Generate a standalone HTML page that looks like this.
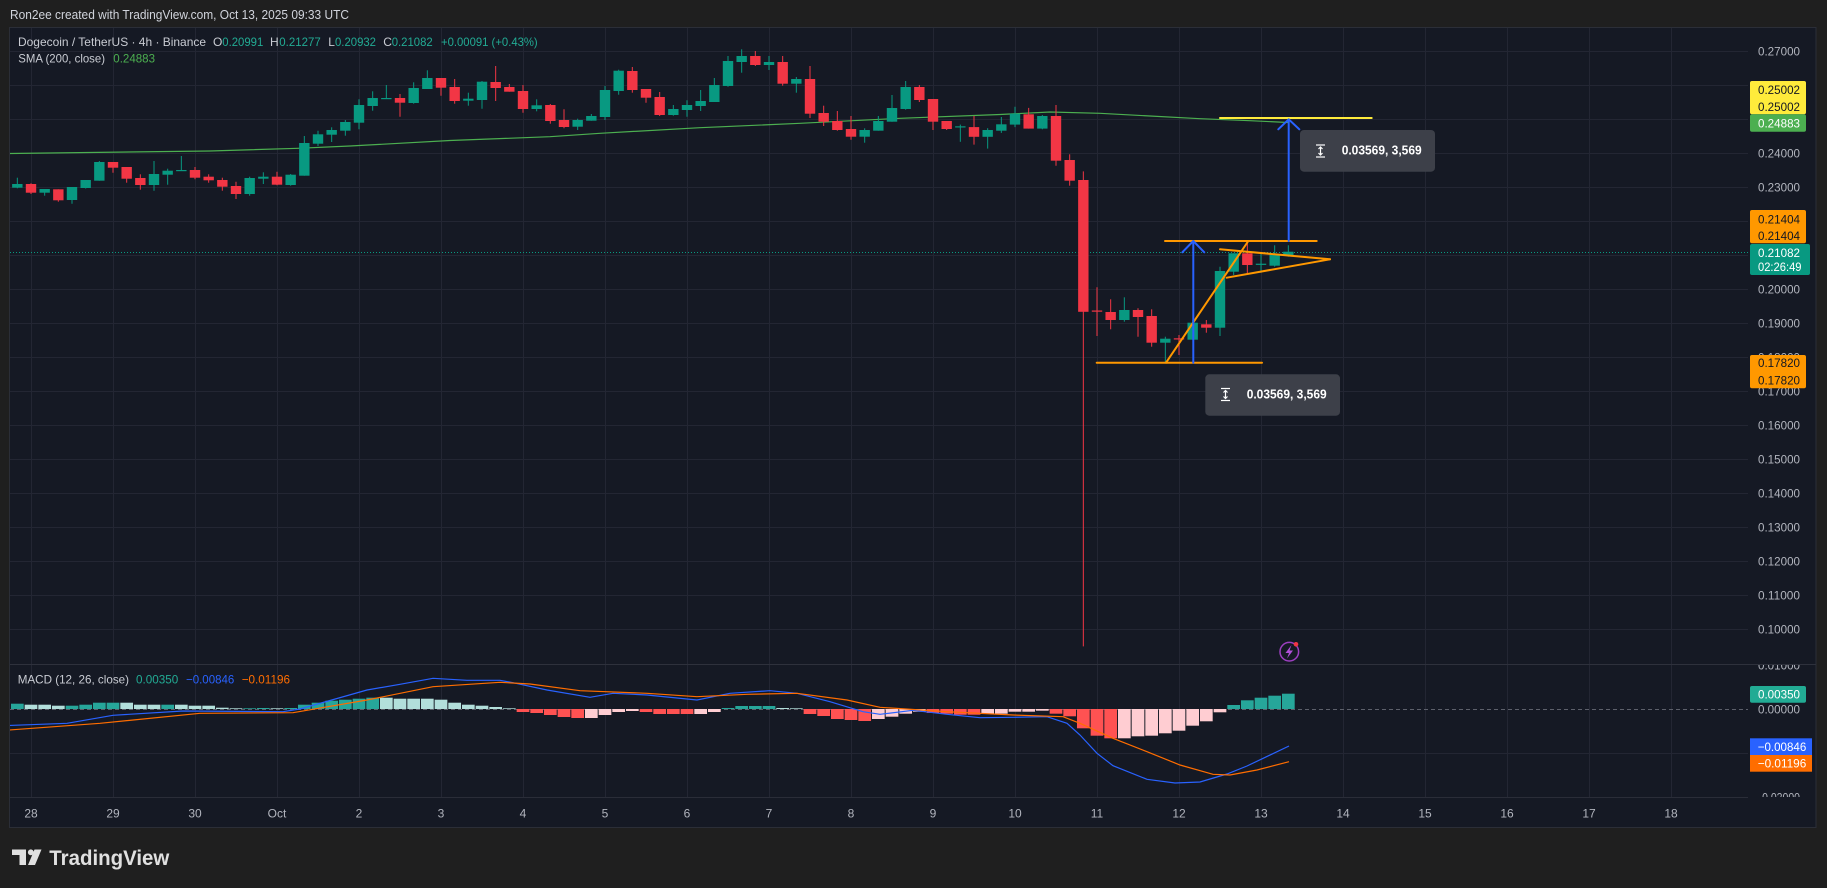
<!DOCTYPE html>
<html>
<head>
<meta charset="utf-8">
<style>
html,body{margin:0;padding:0;background:#1f1f1f;width:1827px;height:888px;overflow:hidden}
svg{display:block}
</style>
</head>
<body>
<svg width="1827" height="888" viewBox="0 0 1827 888" xmlns="http://www.w3.org/2000/svg" font-family="Liberation Sans, sans-serif">
<defs>
<clipPath id="mainclip"><rect x="10" y="28" width="1738" height="636"/></clipPath>
<clipPath id="macdclip"><rect x="10" y="665" width="1738" height="132"/></clipPath>
<clipPath id="macdaxis"><rect x="1748" y="665" width="68" height="132"/></clipPath>
</defs>
<rect width="1827" height="888" fill="#1f1f1f"/>
<text x="10" y="19" font-size="12.5" fill="#d1d4dc" textLength="339" lengthAdjust="spacingAndGlyphs">Ron2ee created with TradingView.com, Oct 13, 2025 09:33 UTC</text>

<rect x="9.5" y="27.5" width="1806.5" height="800" fill="#151924" stroke="#2b2e37" stroke-width="1"/>

<!-- grid -->
<g stroke="#232633" stroke-width="1">
<line x1="31.5" y1="28" x2="31.5" y2="797"/><line x1="113.5" y1="28" x2="113.5" y2="797"/><line x1="195.5" y1="28" x2="195.5" y2="797"/><line x1="277.5" y1="28" x2="277.5" y2="797"/><line x1="359.5" y1="28" x2="359.5" y2="797"/><line x1="441.5" y1="28" x2="441.5" y2="797"/><line x1="523.5" y1="28" x2="523.5" y2="797"/><line x1="605.5" y1="28" x2="605.5" y2="797"/><line x1="687.5" y1="28" x2="687.5" y2="797"/><line x1="769.5" y1="28" x2="769.5" y2="797"/><line x1="851.5" y1="28" x2="851.5" y2="797"/><line x1="933.5" y1="28" x2="933.5" y2="797"/><line x1="1015.5" y1="28" x2="1015.5" y2="797"/><line x1="1097.5" y1="28" x2="1097.5" y2="797"/><line x1="1179.5" y1="28" x2="1179.5" y2="797"/><line x1="1261.5" y1="28" x2="1261.5" y2="797"/><line x1="1343.5" y1="28" x2="1343.5" y2="797"/><line x1="1425.5" y1="28" x2="1425.5" y2="797"/><line x1="1507.5" y1="28" x2="1507.5" y2="797"/><line x1="1589.5" y1="28" x2="1589.5" y2="797"/><line x1="1671.5" y1="28" x2="1671.5" y2="797"/>
<line x1="10" y1="51.5" x2="1748" y2="51.5"/><line x1="10" y1="85.5" x2="1748" y2="85.5"/><line x1="10" y1="119.5" x2="1748" y2="119.5"/><line x1="10" y1="153.5" x2="1748" y2="153.5"/><line x1="10" y1="187.5" x2="1748" y2="187.5"/><line x1="10" y1="221.5" x2="1748" y2="221.5"/><line x1="10" y1="255.5" x2="1748" y2="255.5"/><line x1="10" y1="289.5" x2="1748" y2="289.5"/><line x1="10" y1="323.5" x2="1748" y2="323.5"/><line x1="10" y1="357.5" x2="1748" y2="357.5"/><line x1="10" y1="391.5" x2="1748" y2="391.5"/><line x1="10" y1="425.5" x2="1748" y2="425.5"/><line x1="10" y1="459.5" x2="1748" y2="459.5"/><line x1="10" y1="493.5" x2="1748" y2="493.5"/><line x1="10" y1="527.5" x2="1748" y2="527.5"/><line x1="10" y1="561.5" x2="1748" y2="561.5"/><line x1="10" y1="595.5" x2="1748" y2="595.5"/><line x1="10" y1="629.5" x2="1748" y2="629.5"/>
<line x1="10" y1="753.5" x2="1748" y2="753.5"/>
</g>
<line x1="10" y1="664.5" x2="1816" y2="664.5" stroke="#2e313c" stroke-width="1"/>
<line x1="10" y1="797.5" x2="1748" y2="797.5" stroke="#2a2d38" stroke-width="1"/>

<!-- legend -->
<g font-size="12">
<text x="18" y="46" fill="#c9ccd3" textLength="188" lengthAdjust="spacingAndGlyphs">Dogecoin / TetherUS · 4h · Binance</text>
<text x="213" y="46" fill="#c9ccd3">O</text><text x="222.3" y="46" fill="#22ab94" textLength="41" lengthAdjust="spacingAndGlyphs">0.20991</text>
<text x="270" y="46" fill="#c9ccd3">H</text><text x="279.3" y="46" fill="#22ab94" textLength="41.4" lengthAdjust="spacingAndGlyphs">0.21277</text>
<text x="328.3" y="46" fill="#c9ccd3">L</text><text x="335" y="46" fill="#22ab94" textLength="41" lengthAdjust="spacingAndGlyphs">0.20932</text>
<text x="383.3" y="46" fill="#c9ccd3">C</text><text x="391.7" y="46" fill="#22ab94" textLength="41" lengthAdjust="spacingAndGlyphs">0.21082</text>
<text x="441" y="46" fill="#22ab94" textLength="96.7" lengthAdjust="spacingAndGlyphs">+0.00091 (+0.43%)</text>
<text x="18.3" y="62.5" fill="#c9ccd3" textLength="86.7" lengthAdjust="spacingAndGlyphs">SMA (200, close)</text>
<text x="113.3" y="62.5" fill="#4caf50" textLength="41.7" lengthAdjust="spacingAndGlyphs">0.24883</text>
</g>

<g clip-path="url(#mainclip)">
<!-- SMA -->
<polyline fill="none" stroke="#4caf50" stroke-width="1.2" points="9,153.5 210,151 298,148.3 350,146 450,140.5 550,136.7 600,133.3 700,127.7 800,123.3 900,118.3 1000,114.5 1050,112 1100,113.3 1150,116 1200,118.7 1250,120.7 1288,122.5"/>
<!-- current price line -->
<line x1="10" y1="252.5" x2="1748" y2="252.5" stroke="#089981" stroke-width="1" stroke-dasharray="1 2"/>

<!-- green candles -->
<g stroke="#089981" stroke-width="1">
<line x1="17.33" y1="177.7" x2="17.33" y2="188.3"/><line x1="44.67" y1="189" x2="44.67" y2="195.7"/><line x1="72" y1="187" x2="72" y2="203.7"/><line x1="85.67" y1="180" x2="85.67" y2="188.5"/><line x1="99.33" y1="161" x2="99.33" y2="180.7"/><line x1="154" y1="161" x2="154" y2="190.7"/><line x1="167.67" y1="168.7" x2="167.67" y2="184.7"/><line x1="181.33" y1="156" x2="181.33" y2="171"/><line x1="249.67" y1="176.7" x2="249.67" y2="195.7"/><line x1="263.33" y1="172.3" x2="263.33" y2="184"/><line x1="290.67" y1="174" x2="290.67" y2="185.7"/><line x1="304.33" y1="136" x2="304.33" y2="175.7"/><line x1="318" y1="130.7" x2="318" y2="146"/><line x1="331.67" y1="127.3" x2="331.67" y2="142"/><line x1="345.33" y1="120" x2="345.33" y2="135.7"/><line x1="359" y1="99.3" x2="359" y2="129.3"/><line x1="372.67" y1="91.3" x2="372.67" y2="110.7"/><line x1="386.33" y1="85" x2="386.33" y2="99"/><line x1="413.67" y1="82.3" x2="413.67" y2="103.7"/><line x1="427.33" y1="70.3" x2="427.33" y2="89"/><line x1="468.33" y1="92.7" x2="468.33" y2="105.7"/><line x1="482" y1="81" x2="482" y2="108.7"/><line x1="536.67" y1="99.3" x2="536.67" y2="111.3"/><line x1="577.67" y1="118.7" x2="577.67" y2="130"/><line x1="591.33" y1="114" x2="591.33" y2="120.7"/><line x1="605" y1="86" x2="605" y2="120"/><line x1="618.67" y1="69.7" x2="618.67" y2="94.7"/><line x1="673.33" y1="105" x2="673.33" y2="115.7"/><line x1="687" y1="100.3" x2="687" y2="116.7"/><line x1="700.67" y1="90" x2="700.67" y2="111"/><line x1="714.33" y1="78" x2="714.33" y2="102"/><line x1="728" y1="56" x2="728" y2="86.7"/><line x1="741.67" y1="49.3" x2="741.67" y2="72.7"/><line x1="769" y1="56" x2="769" y2="70"/><line x1="796.33" y1="77" x2="796.33" y2="92.7"/><line x1="864.67" y1="128.3" x2="864.67" y2="142.7"/><line x1="878.33" y1="116" x2="878.33" y2="130.7"/><line x1="892" y1="95" x2="892" y2="121.7"/><line x1="905.67" y1="81" x2="905.67" y2="109.7"/><line x1="960.33" y1="124.6" x2="960.33" y2="141.8"/><line x1="987.67" y1="128.2" x2="987.67" y2="148.6"/><line x1="1001.33" y1="117" x2="1001.33" y2="132.9"/><line x1="1015" y1="106.8" x2="1015" y2="127.1"/><line x1="1042.33" y1="115" x2="1042.33" y2="129.3"/><line x1="1124.33" y1="297.3" x2="1124.33" y2="321.7"/><line x1="1165.33" y1="336.7" x2="1165.33" y2="362.7"/><line x1="1192.67" y1="320" x2="1192.67" y2="339.7"/><line x1="1220" y1="266.7" x2="1220" y2="336"/><line x1="1233.67" y1="253.3" x2="1233.67" y2="275"/><line x1="1261" y1="253.3" x2="1261" y2="272.7"/><line x1="1274.67" y1="245.3" x2="1274.67" y2="266.7"/><line x1="1288.33" y1="245.3" x2="1288.33" y2="256.7"/>
</g>
<g fill="#089981">
<rect x="12.13" y="184" width="10.4" height="3.7"/><rect x="39.47" y="189" width="10.4" height="3.7"/><rect x="66.8" y="187" width="10.4" height="13"/><rect x="80.47" y="180" width="10.4" height="8"/><rect x="94.13" y="162" width="10.4" height="18.7"/><rect x="148.8" y="174" width="10.4" height="11"/><rect x="162.47" y="170.7" width="10.4" height="4"/><rect x="176.13" y="170" width="10.4" height="1.2"/><rect x="244.47" y="178" width="10.4" height="16"/><rect x="258.13" y="176.7" width="10.4" height="2"/><rect x="285.47" y="174.7" width="10.4" height="10.3"/><rect x="299.13" y="143" width="10.4" height="32.7"/><rect x="312.8" y="134.3" width="10.4" height="9.4"/><rect x="326.47" y="130" width="10.4" height="4.7"/><rect x="340.13" y="122" width="10.4" height="8.7"/><rect x="353.8" y="105" width="10.4" height="17.7"/><rect x="367.47" y="98" width="10.4" height="8"/><rect x="381.13" y="98" width="10.4" height="1.2"/><rect x="408.47" y="88" width="10.4" height="15"/><rect x="422.13" y="78" width="10.4" height="11"/><rect x="463.13" y="98.7" width="10.4" height="2"/><rect x="476.8" y="81.7" width="10.4" height="18.3"/><rect x="531.47" y="105.3" width="10.4" height="3.7"/><rect x="572.47" y="120" width="10.4" height="6.7"/><rect x="586.13" y="116" width="10.4" height="4.7"/><rect x="599.8" y="90" width="10.4" height="27"/><rect x="613.47" y="70.7" width="10.4" height="20.3"/><rect x="668.13" y="109" width="10.4" height="6"/><rect x="681.8" y="105" width="10.4" height="5"/><rect x="695.47" y="101" width="10.4" height="5"/><rect x="709.13" y="85" width="10.4" height="17"/><rect x="722.8" y="61" width="10.4" height="25"/><rect x="736.47" y="56" width="10.4" height="6"/><rect x="763.8" y="62" width="10.4" height="3"/><rect x="791.13" y="79" width="10.4" height="4.7"/><rect x="859.47" y="130" width="10.4" height="6.7"/><rect x="873.13" y="121" width="10.4" height="9.7"/><rect x="886.8" y="108" width="10.4" height="13.7"/><rect x="900.47" y="87" width="10.4" height="22"/><rect x="955.13" y="126.3" width="10.4" height="1.2"/><rect x="982.47" y="130" width="10.4" height="6.8"/><rect x="996.13" y="124.3" width="10.4" height="6.4"/><rect x="1009.8" y="113.6" width="10.4" height="11"/><rect x="1037.13" y="116" width="10.4" height="12.6"/><rect x="1119.13" y="310" width="10.4" height="10"/><rect x="1160.13" y="338.7" width="10.4" height="4"/><rect x="1187.47" y="322.7" width="10.4" height="17"/><rect x="1214.8" y="271" width="10.4" height="56.7"/><rect x="1228.47" y="253.3" width="10.4" height="18.4"/><rect x="1255.8" y="263.7" width="10.4" height="1.2"/><rect x="1269.47" y="254.7" width="10.4" height="11"/><rect x="1283.13" y="251.7" width="10.4" height="4"/>
</g>
<!-- red candles -->
<g stroke="#f23645" stroke-width="1">
<line x1="31" y1="183.3" x2="31" y2="194"/><line x1="58.33" y1="189.3" x2="58.33" y2="201.7"/><line x1="113" y1="162" x2="113" y2="172.7"/><line x1="126.67" y1="167" x2="126.67" y2="182.7"/><line x1="140.33" y1="174.3" x2="140.33" y2="189.7"/><line x1="195" y1="167" x2="195" y2="179.3"/><line x1="208.67" y1="174.3" x2="208.67" y2="182.7"/><line x1="222.33" y1="177.7" x2="222.33" y2="190.7"/><line x1="236" y1="181.7" x2="236" y2="199"/><line x1="277" y1="171.7" x2="277" y2="185.3"/><line x1="400" y1="94" x2="400" y2="116.7"/><line x1="441" y1="78" x2="441" y2="95.7"/><line x1="454.67" y1="79" x2="454.67" y2="103.7"/><line x1="495.67" y1="66" x2="495.67" y2="101"/><line x1="509.33" y1="84" x2="509.33" y2="91.7"/><line x1="523" y1="85" x2="523" y2="112.7"/><line x1="550.33" y1="104" x2="550.33" y2="123.7"/><line x1="564" y1="109.3" x2="564" y2="128.3"/><line x1="632.33" y1="67" x2="632.33" y2="92.7"/><line x1="646" y1="89" x2="646" y2="102.7"/><line x1="659.67" y1="92" x2="659.67" y2="116"/><line x1="755.33" y1="51" x2="755.33" y2="66"/><line x1="782.67" y1="56" x2="782.67" y2="85.7"/><line x1="810" y1="66" x2="810" y2="118"/><line x1="823.67" y1="105.7" x2="823.67" y2="126"/><line x1="837.33" y1="111" x2="837.33" y2="130.7"/><line x1="851" y1="116" x2="851" y2="139.7"/><line x1="919.33" y1="85" x2="919.33" y2="102"/><line x1="933" y1="99" x2="933" y2="130"/><line x1="946.67" y1="121" x2="946.67" y2="130"/><line x1="974" y1="116" x2="974" y2="144.6"/><line x1="1028.67" y1="107.9" x2="1028.67" y2="128.6"/><line x1="1056" y1="105" x2="1056" y2="165.7"/><line x1="1069.67" y1="154.3" x2="1069.67" y2="185.7"/><line x1="1083.33" y1="171.4" x2="1083.33" y2="646.4"/><line x1="1097" y1="287.3" x2="1097" y2="336"/><line x1="1110.67" y1="299.3" x2="1110.67" y2="329.3"/><line x1="1138" y1="308.3" x2="1138" y2="336.7"/><line x1="1151.67" y1="309.3" x2="1151.67" y2="346.7"/><line x1="1179" y1="335" x2="1179" y2="355"/><line x1="1206.33" y1="320" x2="1206.33" y2="332.7"/><line x1="1247.33" y1="241" x2="1247.33" y2="274"/>
</g>
<g fill="#f23645">
<rect x="25.8" y="184" width="10.4" height="8.7"/><rect x="53.13" y="189.3" width="10.4" height="11"/><rect x="107.8" y="162" width="10.4" height="5.7"/><rect x="121.47" y="167" width="10.4" height="11.7"/><rect x="135.13" y="178" width="10.4" height="7"/><rect x="189.8" y="170" width="10.4" height="7.7"/><rect x="203.47" y="176.7" width="10.4" height="3.6"/><rect x="217.13" y="180" width="10.4" height="6.7"/><rect x="230.8" y="186" width="10.4" height="8"/><rect x="271.8" y="176.7" width="10.4" height="8"/><rect x="394.8" y="98" width="10.4" height="4.7"/><rect x="435.8" y="78" width="10.4" height="9.7"/><rect x="449.47" y="87" width="10.4" height="14"/><rect x="490.47" y="82" width="10.4" height="6"/><rect x="504.13" y="87" width="10.4" height="4.7"/><rect x="517.8" y="91" width="10.4" height="18"/><rect x="545.13" y="105" width="10.4" height="16"/><rect x="558.8" y="120" width="10.4" height="7"/><rect x="627.13" y="71" width="10.4" height="19"/><rect x="640.8" y="89" width="10.4" height="8.7"/><rect x="654.47" y="97" width="10.4" height="18"/><rect x="750.13" y="56" width="10.4" height="9"/><rect x="777.47" y="62" width="10.4" height="21.7"/><rect x="804.8" y="79" width="10.4" height="34.7"/><rect x="818.47" y="113" width="10.4" height="8.7"/><rect x="832.13" y="121" width="10.4" height="9"/><rect x="845.8" y="129" width="10.4" height="7.7"/><rect x="914.13" y="87" width="10.4" height="13"/><rect x="927.8" y="99" width="10.4" height="22.7"/><rect x="941.47" y="121" width="10.4" height="8"/><rect x="968.8" y="127.1" width="10.4" height="9.7"/><rect x="1023.47" y="114.3" width="10.4" height="14.3"/><rect x="1050.8" y="116" width="10.4" height="44.7"/><rect x="1064.47" y="160" width="10.4" height="20.7"/><rect x="1078.13" y="180" width="10.4" height="131.8"/><rect x="1091.8" y="310.5" width="10.4" height="1.2"/><rect x="1105.47" y="312" width="10.4" height="8"/><rect x="1132.8" y="310" width="10.4" height="7"/><rect x="1146.47" y="316" width="10.4" height="26.7"/><rect x="1173.8" y="338.3" width="10.4" height="1.2"/><rect x="1201.13" y="324.3" width="10.4" height="3.4"/><rect x="1242.13" y="253.3" width="10.4" height="11.7"/>
</g>

<!-- drawings -->
<g fill="none" stroke-width="2" stroke-linecap="round" stroke-linejoin="round">
<line x1="1220" y1="118" x2="1371.7" y2="118" stroke="#ffeb3b"/>
<line x1="1165" y1="241" x2="1316.7" y2="241" stroke="#ff9800"/>
<line x1="1096.7" y1="362.7" x2="1262" y2="362.7" stroke="#ff9800"/>
<line x1="1166" y1="362.7" x2="1248.3" y2="241" stroke="#ff9800"/>
<line x1="1220" y1="249.3" x2="1330" y2="259.3" stroke="#ff9800"/>
<line x1="1226.7" y1="277.7" x2="1330" y2="259.3" stroke="#ff9800"/>
<line x1="1193.3" y1="362.7" x2="1193.3" y2="242" stroke="#2962ff"/>
<polyline points="1182.3,252.3 1193.3,241 1204.3,252.3" stroke="#2962ff"/>
<line x1="1288.7" y1="241" x2="1288.7" y2="120" stroke="#2962ff"/>
<polyline points="1278.3,129.3 1288.7,119.3 1299.3,129.3" stroke="#2962ff"/>
</g>

<!-- measure boxes -->
<rect x="1300" y="130" width="135" height="41.7" rx="4" fill="#3d4049"/>
<g stroke="#ffffff" stroke-width="1.2" fill="none">
<line x1="1316" y1="145" x2="1325" y2="145"/><line x1="1316" y1="157" x2="1325" y2="157"/>
<line x1="1320.5" y1="147" x2="1320.5" y2="155"/><polyline points="1318.5,149 1320.5,147 1322.5,149"/><polyline points="1318.5,153 1320.5,155 1322.5,153"/>
</g>
<text x="1341.7" y="154.5" font-size="12.5" font-weight="bold" fill="#ffffff" textLength="80" lengthAdjust="spacingAndGlyphs">0.03569, 3,569</text>
<rect x="1205.3" y="374.3" width="134.7" height="41.4" rx="4" fill="#3d4049"/>
<g stroke="#ffffff" stroke-width="1.2" fill="none">
<line x1="1221" y1="388.5" x2="1230" y2="388.5"/><line x1="1221" y1="400.5" x2="1230" y2="400.5"/>
<line x1="1225.5" y1="390.5" x2="1225.5" y2="398.5"/><polyline points="1223.5,392.5 1225.5,390.5 1227.5,392.5"/><polyline points="1223.5,396.5 1225.5,398.5 1227.5,396.5"/>
</g>
<text x="1246.7" y="398.5" font-size="12.5" font-weight="bold" fill="#ffffff" textLength="80" lengthAdjust="spacingAndGlyphs">0.03569, 3,569</text>

<!-- lightning icon -->
<circle cx="1289.3" cy="651.7" r="9.3" fill="none" stroke="#9c3fc0" stroke-width="1.5"/>
<polygon points="1291.5,645 1285.5,653 1289,653 1287,658.5 1293,650.5 1289.5,650.5" fill="#b050d8"/>
<circle cx="1296" cy="644.3" r="2.3" fill="#f23645"/>
</g>

<!-- MACD pane -->
<g clip-path="url(#macdclip)">
<line x1="10" y1="709.5" x2="1748" y2="709.5" stroke="#5d606b" stroke-width="1" stroke-dasharray="4 3"/>
<g fill="#26a69a">
<rect x="10.98" y="703.7" width="12.7" height="5.3"/><rect x="65.65" y="705.7" width="12.7" height="3.3"/><rect x="79.32" y="704.7" width="12.7" height="4.3"/><rect x="92.98" y="702.7" width="12.7" height="6.3"/><rect x="106.65" y="702.7" width="12.7" height="6.3"/><rect x="161.32" y="704.7" width="12.7" height="4.3"/><rect x="243.32" y="708.3" width="12.7" height="0.7"/><rect x="256.98" y="708" width="12.7" height="1"/><rect x="284.32" y="708" width="12.7" height="1"/><rect x="297.98" y="704.7" width="12.7" height="4.3"/><rect x="311.65" y="702.7" width="12.7" height="6.3"/><rect x="325.32" y="700.7" width="12.7" height="8.3"/><rect x="338.98" y="699.7" width="12.7" height="9.3"/><rect x="352.65" y="698.7" width="12.7" height="10.3"/><rect x="366.32" y="697.7" width="12.7" height="11.3"/><rect x="721.65" y="708" width="12.7" height="1"/><rect x="735.32" y="706" width="12.7" height="3"/><rect x="748.98" y="706" width="12.7" height="3"/><rect x="762.65" y="706" width="12.7" height="3"/><rect x="1227.32" y="705" width="12.7" height="4"/><rect x="1240.98" y="700.3" width="12.7" height="8.7"/><rect x="1254.65" y="697.7" width="12.7" height="11.3"/><rect x="1268.32" y="695.7" width="12.7" height="13.3"/><rect x="1281.98" y="693.7" width="12.7" height="15.3"/>
</g>
<g fill="#b2dfdb">
<rect x="24.65" y="704.7" width="12.7" height="4.3"/><rect x="38.32" y="704.7" width="12.7" height="4.3"/><rect x="51.98" y="705.7" width="12.7" height="3.3"/><rect x="120.32" y="702.7" width="12.7" height="6.3"/><rect x="133.98" y="704.7" width="12.7" height="4.3"/><rect x="147.65" y="704.7" width="12.7" height="4.3"/><rect x="174.98" y="704.7" width="12.7" height="4.3"/><rect x="188.65" y="705.7" width="12.7" height="3.3"/><rect x="202.32" y="705.7" width="12.7" height="3.3"/><rect x="215.98" y="707.7" width="12.7" height="1.3"/><rect x="229.65" y="708.3" width="12.7" height="0.7"/><rect x="270.65" y="708.3" width="12.7" height="0.7"/><rect x="379.98" y="697.7" width="12.7" height="11.3"/><rect x="393.65" y="698.7" width="12.7" height="10.3"/><rect x="407.32" y="698.7" width="12.7" height="10.3"/><rect x="420.98" y="698.7" width="12.7" height="10.3"/><rect x="434.65" y="699.7" width="12.7" height="9.3"/><rect x="448.32" y="702.7" width="12.7" height="6.3"/><rect x="461.98" y="704.7" width="12.7" height="4.3"/><rect x="475.65" y="705.7" width="12.7" height="3.3"/><rect x="489.32" y="707" width="12.7" height="2"/><rect x="502.98" y="708.3" width="12.7" height="0.7"/><rect x="776.32" y="708" width="12.7" height="1"/><rect x="789.98" y="708.3" width="12.7" height="0.7"/>
</g>
<g fill="#ff5252">
<rect x="516.65" y="709" width="12.7" height="3"/><rect x="530.32" y="709" width="12.7" height="4"/><rect x="543.98" y="709" width="12.7" height="6"/><rect x="557.65" y="709" width="12.7" height="8"/><rect x="571.32" y="709" width="12.7" height="9"/><rect x="639.65" y="709" width="12.7" height="3"/><rect x="653.32" y="709" width="12.7" height="5"/><rect x="666.98" y="709" width="12.7" height="5"/><rect x="680.65" y="709" width="12.7" height="5"/><rect x="803.65" y="709" width="12.7" height="5"/><rect x="817.32" y="709" width="12.7" height="7"/><rect x="830.98" y="709" width="12.7" height="10"/><rect x="844.65" y="709" width="12.7" height="11"/><rect x="858.32" y="709" width="12.7" height="12"/><rect x="926.65" y="709" width="12.7" height="4"/><rect x="940.32" y="709" width="12.7" height="4.7"/><rect x="953.98" y="709" width="12.7" height="5.7"/><rect x="967.65" y="709" width="12.7" height="5.7"/><rect x="1049.65" y="709" width="12.7" height="4.7"/><rect x="1063.32" y="709" width="12.7" height="7.3"/><rect x="1076.98" y="709" width="12.7" height="19.3"/><rect x="1090.65" y="709" width="12.7" height="26.7"/><rect x="1104.32" y="709" width="12.7" height="29.3"/>
</g>
<g fill="#ffcdd2">
<rect x="584.98" y="709" width="12.7" height="9"/><rect x="598.65" y="709" width="12.7" height="6"/><rect x="612.32" y="709" width="12.7" height="3"/><rect x="625.98" y="709" width="12.7" height="2"/><rect x="694.32" y="709" width="12.7" height="5"/><rect x="707.98" y="709" width="12.7" height="3"/><rect x="871.98" y="709" width="12.7" height="10"/><rect x="885.65" y="709" width="12.7" height="7.7"/><rect x="899.32" y="709" width="12.7" height="4.7"/><rect x="912.98" y="709" width="12.7" height="2.7"/><rect x="981.32" y="709" width="12.7" height="4.7"/><rect x="994.98" y="709" width="12.7" height="4.7"/><rect x="1008.65" y="709" width="12.7" height="2.7"/><rect x="1022.32" y="709" width="12.7" height="2.7"/><rect x="1035.98" y="709" width="12.7" height="1.7"/><rect x="1117.98" y="709" width="12.7" height="29.3"/><rect x="1131.65" y="709" width="12.7" height="27.3"/><rect x="1145.32" y="709" width="12.7" height="26.7"/><rect x="1158.98" y="709" width="12.7" height="24.3"/><rect x="1172.65" y="709" width="12.7" height="21.7"/><rect x="1186.32" y="709" width="12.7" height="16.7"/><rect x="1199.98" y="709" width="12.7" height="12.3"/><rect x="1213.65" y="709" width="12.7" height="3.3"/>
</g>
<polyline fill="none" stroke="#2962ff" stroke-width="1.2" points="9,725.5 67,723.3 113,715.3 183,711 283,711.7 300,709 367,690 400,684.3 433,678.3 467,680.3 500,680.3 513,682.7 547,690 590,697.3 613,693.3 647,695 697,700 730,693.3 770,690.7 797,693.3 830,701.7 863,711.7 880,714.3 913,710.3 947,714.3 980,717.7 1013,717.3 1047,716.7 1067,723.3 1080,735 1097,753.3 1113,765.7 1147,779.3 1175,783 1200,782 1227,774 1247,766 1289,746"/>
<polyline fill="none" stroke="#ff6d00" stroke-width="1.2" points="9,730 100,723.3 200,713.3 293,712.7 367,700 433,686.7 500,682.3 530,684 580,690.7 647,693.3 697,696.7 747,694.3 797,693.3 847,700 880,707.3 947,711.7 1013,715 1063,716.7 1080,723.3 1113,738.3 1147,751.7 1180,765 1213,774.3 1230,775 1257,770 1289,761.7"/>
</g>

<!-- MACD legend -->
<g font-size="12">
<text x="17.7" y="683.5" fill="#c9ccd3" textLength="111.3" lengthAdjust="spacingAndGlyphs">MACD (12, 26, close)</text>
<text x="136" y="683.5" fill="#22ab94" textLength="42.3" lengthAdjust="spacingAndGlyphs">0.00350</text>
<text x="186" y="683.5" fill="#2962ff" textLength="48.3" lengthAdjust="spacingAndGlyphs">−0.00846</text>
<text x="241.7" y="683.5" fill="#ff6d00" textLength="48.3" lengthAdjust="spacingAndGlyphs">−0.01196</text>
</g>

<!-- price axis labels -->
<g font-size="12" fill="#b2b5be">
<text x="1758" y="55.3" textLength="42" lengthAdjust="spacingAndGlyphs">0.27000</text>
<text x="1758" y="89.3" textLength="42" lengthAdjust="spacingAndGlyphs">0.26000</text>
<text x="1758" y="123.3" textLength="42" lengthAdjust="spacingAndGlyphs">0.25000</text>
<text x="1758" y="157.3" textLength="42" lengthAdjust="spacingAndGlyphs">0.24000</text>
<text x="1758" y="191.3" textLength="42" lengthAdjust="spacingAndGlyphs">0.23000</text>
<text x="1758" y="225.3" textLength="42" lengthAdjust="spacingAndGlyphs">0.22000</text>
<text x="1758" y="259.3" textLength="42" lengthAdjust="spacingAndGlyphs">0.21000</text>
<text x="1758" y="293.3" textLength="42" lengthAdjust="spacingAndGlyphs">0.20000</text>
<text x="1758" y="327.3" textLength="42" lengthAdjust="spacingAndGlyphs">0.19000</text>
<text x="1758" y="361.3" textLength="42" lengthAdjust="spacingAndGlyphs">0.18000</text>
<text x="1758" y="395.3" textLength="42" lengthAdjust="spacingAndGlyphs">0.17000</text>
<text x="1758" y="429.3" textLength="42" lengthAdjust="spacingAndGlyphs">0.16000</text>
<text x="1758" y="463.3" textLength="42" lengthAdjust="spacingAndGlyphs">0.15000</text>
<text x="1758" y="497.3" textLength="42" lengthAdjust="spacingAndGlyphs">0.14000</text>
<text x="1758" y="531.3" textLength="42" lengthAdjust="spacingAndGlyphs">0.13000</text>
<text x="1758" y="565.3" textLength="42" lengthAdjust="spacingAndGlyphs">0.12000</text>
<text x="1758" y="599.3" textLength="42" lengthAdjust="spacingAndGlyphs">0.11000</text>
<text x="1758" y="633.3" textLength="42" lengthAdjust="spacingAndGlyphs">0.10000</text>
<g clip-path="url(#macdaxis)">
<text x="1758" y="669.3" textLength="42" lengthAdjust="spacingAndGlyphs">0.01000</text>
<text x="1758" y="713.5" textLength="42" lengthAdjust="spacingAndGlyphs">0.00000</text>
<text x="1756" y="801.3" textLength="44" lengthAdjust="spacingAndGlyphs">−0.02000</text>
</g>
</g>

<!-- price tags -->
<rect x="1750" y="81" width="56" height="33.3" rx="2" fill="#ffeb3b"/>
<rect x="1750" y="114.3" width="56" height="17.4" rx="2" fill="#4caf50"/>
<rect x="1750" y="210" width="56" height="33.3" rx="2" fill="#ff9800"/>
<rect x="1750" y="244" width="60" height="31" rx="2" fill="#089981"/>
<rect x="1750" y="355" width="56" height="33.3" rx="2" fill="#ff9800"/>
<rect x="1750" y="686" width="56" height="16.7" rx="2" fill="#22ab94"/>
<rect x="1750" y="738.3" width="62" height="16.7" fill="#2962ff"/>
<rect x="1750" y="755" width="62" height="16.7" fill="#ff6d00"/>
<g font-size="12">
<text x="1758" y="94" fill="#131722" textLength="42" lengthAdjust="spacingAndGlyphs">0.25002</text>
<text x="1758" y="111" fill="#131722" textLength="42" lengthAdjust="spacingAndGlyphs">0.25002</text>
<text x="1758" y="127.5" fill="#ffffff" textLength="42" lengthAdjust="spacingAndGlyphs">0.24883</text>
<text x="1758" y="223.3" fill="#131722" textLength="42" lengthAdjust="spacingAndGlyphs">0.21404</text>
<text x="1758" y="240" fill="#131722" textLength="42" lengthAdjust="spacingAndGlyphs">0.21404</text>
<text x="1758" y="257" fill="#ffffff" textLength="42" lengthAdjust="spacingAndGlyphs">0.21082</text>
<text x="1758" y="271" fill="#ffffff" textLength="43.5" lengthAdjust="spacingAndGlyphs">02:26:49</text>
<text x="1758" y="367" fill="#131722" textLength="42" lengthAdjust="spacingAndGlyphs">0.17820</text>
<text x="1758" y="384.3" fill="#131722" textLength="42" lengthAdjust="spacingAndGlyphs">0.17820</text>
<text x="1758" y="698.5" fill="#ffffff" textLength="42" lengthAdjust="spacingAndGlyphs">0.00350</text>
<text x="1757.7" y="751" fill="#ffffff" textLength="48.6" lengthAdjust="spacingAndGlyphs">−0.00846</text>
<text x="1757.7" y="767.7" fill="#ffffff" textLength="48.6" lengthAdjust="spacingAndGlyphs">−0.01196</text>
</g>

<!-- time axis -->
<g font-size="12" fill="#b2b5be" text-anchor="middle">
<text x="31" y="817.5">28</text><text x="113" y="817.5">29</text><text x="195" y="817.5">30</text><text x="277" y="817.5">Oct</text><text x="359" y="817.5">2</text><text x="441" y="817.5">3</text><text x="523" y="817.5">4</text><text x="605" y="817.5">5</text><text x="687" y="817.5">6</text><text x="769" y="817.5">7</text><text x="851" y="817.5">8</text><text x="933" y="817.5">9</text><text x="1015" y="817.5">10</text><text x="1097" y="817.5">11</text><text x="1179" y="817.5">12</text><text x="1261" y="817.5">13</text><text x="1343" y="817.5">14</text><text x="1425" y="817.5">15</text><text x="1507" y="817.5">16</text><text x="1589" y="817.5">17</text><text x="1671" y="817.5">18</text>
</g>

<!-- TradingView logo -->
<g fill="#e0e0e0">
<rect x="12" y="849.5" width="14" height="5.5"/>
<rect x="19.5" y="849.5" width="6.5" height="15.5"/>
<circle cx="30.8" cy="852.3" r="2.9"/>
<polygon points="34.5,849.5 41.5,849.5 35,865 28,865"/>
</g>
<text x="49.3" y="865" font-size="21.5" font-weight="bold" fill="#e0e0e0" textLength="120" lengthAdjust="spacingAndGlyphs">TradingView</text>
</svg>
</body>
</html>
